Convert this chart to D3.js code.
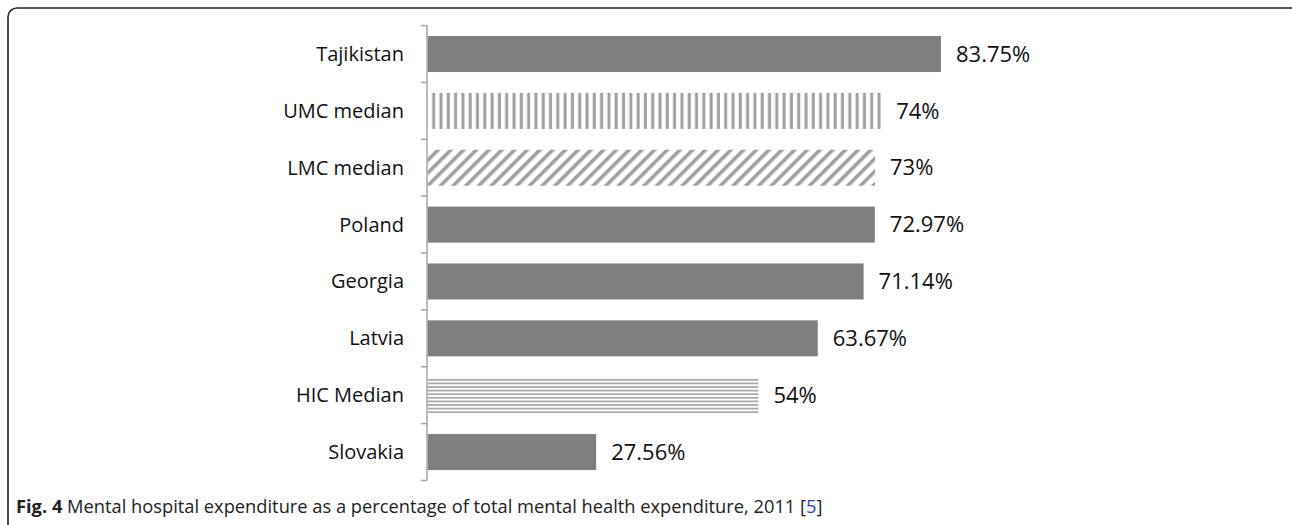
<!DOCTYPE html>
<html>
<head>
<meta charset="utf-8">
<script src="https://cdn.jsdelivr.net/npm/d3@7"></script>
<style>
  body { margin: 0; background: #fff; }
  svg { display: block; }
</style>
</head>
<body>
<div id="chart"></div>
<script>
// data
const countries = ['Tajikistan', 'UMC median', 'LMC median', 'Poland', 'Georgia', 'Latvia', 'HIC Median', 'Slovakia'];
const shares = [83.75, 74, 73, 72.97, 71.14, 63.67, 54, 27.56];
const valueLabels = ['83.75%', '74%', '73%', '72.97%', '71.14%', '63.67%', '54%', '27.56%'];
// bar fill: solid, vertical stripes, diagonal stripes, horizontal lines
const fills = ['solid', 'vert', 'diag', 'solid', 'solid', 'solid', 'horiz', 'solid'];

const width = 1292, height = 525;
const margin = {top: 25.6, left: 427};
const font = '"Open Sans", sans-serif';

const svg = d3.select('#chart').append('svg')
  .attr('width', width)
  .attr('height', height);

// hatch patterns
const defs = svg.append('defs');
defs.append('pattern')
  .attr('id', 'vert')
  .attr('patternUnits', 'userSpaceOnUse')
  .attr('width', 7.3).attr('height', 10)
  .append('rect')
  .attr('x', 1.5).attr('width', 3).attr('height', 10)
  .attr('fill', '#a0a0a0');

const diag = defs.append('pattern')
  .attr('id', 'diag')
  .attr('patternUnits', 'userSpaceOnUse')
  .attr('width', 9).attr('height', 9)
  .attr('patternTransform', 'rotate(45)');
diag.append('rect')
  .attr('width', 3.6).attr('height', 9)
  .attr('fill', '#a0a0a0');

defs.append('pattern')
  .attr('id', 'horiz')
  .attr('patternUnits', 'userSpaceOnUse')
  .attr('width', 10).attr('height', 3.6)
  .append('rect')
  .attr('y', 1).attr('width', 10).attr('height', 1.6)
  .attr('fill', '#a0a0a0');

// frame
svg.append('rect')
  .attr('x', 8).attr('y', 8)
  .attr('width', 1300).attr('height', 540)
  .attr('rx', 9).attr('ry', 9)
  .attr('fill', 'none')
  .attr('stroke', '#222')
  .attr('stroke-width', 1.6);

const x = d3.scaleLinear()
  .domain([0, 100])
  .range([margin.left, margin.left + 613.7]);

const y = d3.scaleBand()
  .domain(countries)
  .range([margin.top, margin.top + 8 * 56.86])
  .paddingInner(0.367)
  .paddingOuter(0.1835);

// axis with outward ticks between categories
const axisG = svg.append('g').attr('class', 'axis');
axisG.append('line')
  .attr('x1', margin.left).attr('x2', margin.left)
  .attr('y1', y.range()[0]).attr('y2', y.range()[1])
  .attr('stroke', '#a6a6a6').attr('stroke-width', 1.5);

const tickPos = d3.range(countries.length + 1).map(i => y.range()[0] + i * y.step());
axisG.selectAll('.tick')
  .data(tickPos)
  .enter().append('line')
  .attr('x1', margin.left - 6).attr('x2', margin.left)
  .attr('y1', d => d).attr('y2', d => d)
  .attr('stroke', '#a6a6a6').attr('stroke-width', 1.5);

axisG.selectAll('.cat')
  .data(countries)
  .enter().append('text')
  .attr('x', margin.left - 23)
  .attr('y', d => y(d) + y.bandwidth() / 2)
  .attr('dy', '0.35em')
  .attr('text-anchor', 'end')
  .style('font-family', font)
  .style('font-size', '20px')
  .attr('fill', '#111')
  .text(d => d);

// bars
const rows = countries.map((c, i) => ({name: c, value: shares[i], label: valueLabels[i], fill: fills[i]}));

svg.selectAll('.bar')
  .data(rows)
  .enter().append('rect')
  .attr('x', x(0) + 0.75)
  .attr('y', d => y(d.name))
  .attr('width', d => x(d.value) - x(0) - 0.75)
  .attr('height', y.bandwidth())
  .attr('fill', d => d.fill === 'solid' ? '#7f7f7f' : `url(#${d.fill})`);

svg.selectAll('.val')
  .data(rows)
  .enter().append('text')
  .attr('x', d => x(d.value) + 15)
  .attr('y', d => y(d.name) + y.bandwidth() / 2)
  .attr('dy', '0.35em')
  .style('font-family', font)
  .style('font-size', '22px')
  .attr('fill', '#111')
  .text(d => d.label);

// caption
const cap = svg.append('text')
  .attr('x', 16).attr('y', 513)
  .style('font-family', font)
  .style('font-size', '18.3px')
  .attr('fill', '#222');
cap.append('tspan').style('font-weight', 'bold').text('Fig. 4');
cap.append('tspan').text(' Mental hospital expenditure as a percentage of total mental health expenditure, 2011 [');
cap.append('tspan').attr('fill', '#2b3bd6').text('5');
cap.append('tspan').text(']');
</script>
</body>
</html>
